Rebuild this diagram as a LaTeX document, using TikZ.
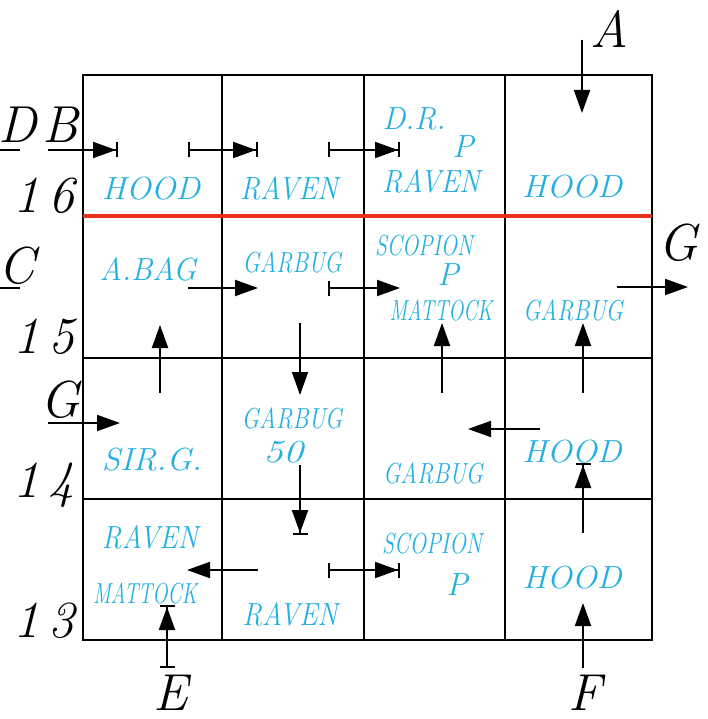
\documentclass[tikz,border=0pt]{standalone}
\usepackage{graphicx}
\usetikzlibrary{arrows.meta}
\definecolor{cy}{RGB}{35,175,225}
\definecolor{rd}{RGB}{235,45,30}
\newcommand\cytext[2]{\resizebox{#1pt}{\height}{#2}}
\begin{document}
\begin{tikzpicture}[x=1pt,y=-1pt,
  gridline/.style={line width=2pt,black},
  redline/.style={line width=3.2pt,rd},
  cyl/.style={text=cy,font=\fontsize{32}{34}\selectfont\itshape,inner sep=0pt,anchor=base},
  cyn/.style={text=cy,font=\fontsize{29}{31}\selectfont\itshape,inner sep=0pt,anchor=base},
  lbl/.style={font=\fontsize{52}{56}\selectfont\itshape,inner sep=0pt,anchor=base},
  pl/.style={line width=2pt},
  ta/.style={line width=2pt,-{Triangle[length=23pt,width=16pt]}},
  tb/.style={line width=2pt,-{Triangle[length=23pt,width=16pt]Bar[width=15pt]}},
  btb/.style={line width=2pt,{Bar[width=15pt]}-{Triangle[length=23pt,width=16pt]Bar[width=15pt]}},
  bt/.style={line width=2pt,{Bar[width=15pt]}-{Triangle[length=23pt,width=16pt]}}]
\useasboundingbox (0,0) rectangle (707,719);
% grid
\draw[gridline] (83,75) rectangle (652,640);
\draw[gridline] (222,75) -- (222,640);
\draw[gridline] (364,75) -- (364,640);
\draw[gridline] (505,75) -- (505,640);
\draw[gridline] (83,358) -- (652,358);
\draw[gridline] (83,499) -- (652,499);
\draw[redline] (83,216) -- (652,216);
% black labels
\node[lbl] (lD) at (18,143) {D};
\node[lbl] (lB) at (60,143) {B};
\node[lbl] (l16) at (44,213) {1\,6};
\node[lbl] (lC) at (17,283) {C};
\node[lbl] (l15) at (44,353) {1\,5};
\node[lbl] (lG) at (60,417) {G};
\node[lbl] (l14) at (44,497) {1\,4};
\node[lbl] (l13) at (44,637) {1\,3};
\node[lbl] (lA) at (609,48) {A};
\node[lbl] (lG2) at (678,260) {G};
\node[lbl] (lE) at (171,710) {E};
\node[lbl] (lF) at (585,710) {F};
% cyan texts
\node[cyl] (t1) at (151,200) {\cytext{98}{HOOD}};
\node[cyl] (t2) at (289,200) {\cytext{98}{RAVEN}};
\node[cyl] (t3) at (414,130) {\cytext{63}{D.R.}};
\node[cyl] (t4) at (463,158) {P};
\node[cyl] (t5) at (431,193) {\cytext{98}{RAVEN}};
\node[cyl] (t6) at (572,198) {\cytext{100}{HOOD}};
\node[cyl] (t7) at (148,280) {\cytext{97}{A.BAG}};
\node[cyn] (t8) at (292,272) {\cytext{99}{GARBUG}};
\node[cyn] (t9) at (424,255) {\cytext{98}{SCOPION}};
\node[cyl] (t10) at (448,285) {P};
\node[cyn] (t11) at (441,320) {\cytext{103}{MATTOCK}};
\node[cyn] (t12) at (573,320) {\cytext{100}{GARBUG}};
\node[cyl] (t13) at (152,470) {\cytext{100}{SIR.G.}};
\node[cyn] (t14) at (292,428) {\cytext{101}{GARBUG}};
\node[cyl] (t15) at (283,462) {\cytext{40}{50}};
\node[cyn] (t16) at (433,483) {\cytext{100}{GARBUG}};
\node[cyl] (t17) at (572,462) {\cytext{99}{HOOD}};
\node[cyl] (t18) at (150,548) {\cytext{96}{RAVEN}};
\node[cyn] (t19) at (145,603) {\cytext{104}{MATTOCK}};
\node[cyl] (t20) at (290,625) {\cytext{95}{RAVEN}};
\node[cyn] (t21) at (432,553) {\cytext{100}{SCOPION}};
\node[cyl] (t22) at (457,595) {P};
\node[cyl] (t23) at (572,588) {\cytext{99}{HOOD}};
% arrow end points
\coordinate (d0) at (0,150); \coordinate (d1) at (20,150);
\coordinate (c0) at (0,288); \coordinate (c1) at (20,288);
\coordinate (a1s) at (48,150); \coordinate (a1e) at (118,150);
\coordinate (a2s) at (188,150); \coordinate (a2e) at (258,150);
\coordinate (a3s) at (328,150); \coordinate (a3e) at (400,150);
\coordinate (aAs) at (582,40); \coordinate (aAe) at (582,113);
\coordinate (a5s) at (188,288); \coordinate (a5e) at (258,288);
\coordinate (a6s) at (328,288); \coordinate (a6e) at (400,288);
\coordinate (aGs) at (617,287); \coordinate (aGe) at (688,287);
\coordinate (a8s) at (160,393); \coordinate (a8e) at (160,325);
\coordinate (a9s) at (300,323); \coordinate (a9e) at (300,395);
\coordinate (a10s) at (442,393); \coordinate (a10e) at (442,323);
\coordinate (a11s) at (583,393); \coordinate (a11e) at (583,323);
\coordinate (a12s) at (48,423); \coordinate (a12e) at (120,423);
\coordinate (a13s) at (540,429); \coordinate (a13e) at (468,429);
\coordinate (a14s) at (300,465); \coordinate (a14e) at (300,535);
\coordinate (a15s) at (583,533); \coordinate (a15e) at (583,463);
\coordinate (a16s) at (258,570); \coordinate (a16e) at (187,570);
\coordinate (a17s) at (328,570); \coordinate (a17e) at (400,570);
\coordinate (aEs) at (167,668); \coordinate (aEe) at (167,605);
\coordinate (aFs) at (583,668); \coordinate (aFe) at (583,603);
% connectors
\draw[pl] (d0) -- (d1);
\draw[pl] (c0) -- (c1);
\draw[tb] (a1s) -- (a1e);
\draw[btb] (a2s) -- (a2e);
\draw[btb] (a3s) -- (a3e);
\draw[ta] (aAs) -- (aAe);
\draw[ta] (a5s) -- (a5e);
\draw[bt] (a6s) -- (a6e);
\draw[ta] (aGs) -- (aGe);
\draw[ta] (a8s) -- (a8e);
\draw[ta] (a9s) -- (a9e);
\draw[ta] (a10s) -- (a10e);
\draw[ta] (a11s) -- (a11e);
\draw[ta] (a12s) -- (a12e);
\draw[ta] (a13s) -- (a13e);
\draw[tb] (a14s) -- (a14e);
\draw[tb] (a15s) -- (a15e);
\draw[ta] (a16s) -- (a16e);
\draw[btb] (a17s) -- (a17e);
\draw[btb] (aEs) -- (aEe);
\draw[ta] (aFs) -- (aFe);
\end{tikzpicture}
\end{document}
